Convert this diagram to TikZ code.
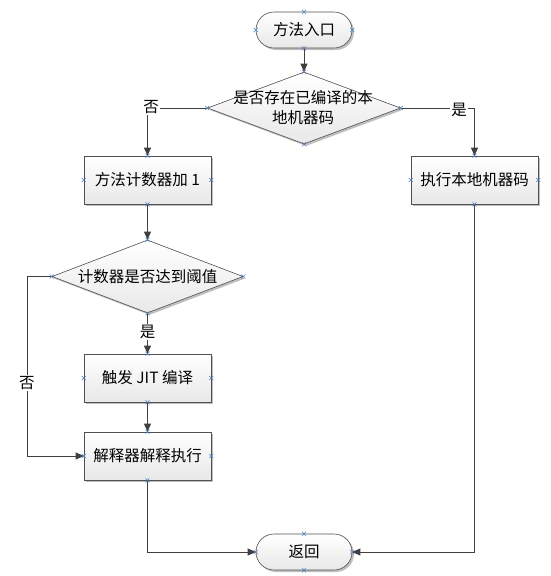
\documentclass[tikz,border=0pt]{standalone}
\usepackage{fontspec}
\setmainfont{Noto Sans CJK SC}
\usetikzlibrary{shapes.geometric,arrows.meta,shadows,calc}
\definecolor{ln}{HTML}{404040}
\definecolor{bd}{HTML}{505050}
\definecolor{mk}{HTML}{4A7EBB}
\begin{document}
\begin{tikzpicture}[x=1pt,y=-1pt,
  base/.style={draw=bd, line width=0.6pt, top color=white, bottom color=black!9,
    drop shadow={shadow xshift=2pt, shadow yshift=-2pt, opacity=0.25, fill=black},
    font=\fontsize{15.5}{20}\selectfont, inner sep=0pt},
  term/.style={base, rectangle, rounded corners=18pt, minimum width=96pt, minimum height=36pt},
  proc/.style={base, rectangle, minimum width=127pt, minimum height=48pt},
  dia/.style={base, diamond, inner sep=0pt},
  txt/.style={font=\fontsize{15.5}{20}\selectfont, align=center, inner sep=0pt},
  lab/.style={font=\fontsize{15.5}{20}\selectfont, fill=white, inner sep=1pt},
  conn/.style={draw=ln, line width=0.7pt, -{Triangle[length=8pt,width=7pt]}},
  cpmark/.style={draw=mk, line width=0.6pt}
]
\useasboundingbox[fill=white] (0,0) rectangle (551,576);
\newcommand\xmk[1]{\draw[cpmark] ($(#1)+(-2,-2)$) -- ($(#1)+(2,2)$) ($(#1)+(-2,2)$) -- ($(#1)+(2,-2)$);}

\node[term] (start) at (304,30) {方法入口};
\node[dia, minimum width=193pt, minimum height=72pt] (d1) at (304,108) {};
\node[txt] (d1t) at (303,108) {是否存在已编译的本\\地机器码};
\node[proc] (b1) at (147.5,180) {方法计数器加 1};
\node[proc] (b2) at (474.5,180) {执行本地机器码};
\node[dia, minimum width=191pt, minimum height=73pt] (d2) at (147.5,276.5) {};
\node[txt] (d2t) at (147.5,276.5) {计数器是否达到阈值};
\node[proc] (b3) at (147.5,378) {触发 JIT 编译};
\node[proc] (b4) at (147.5,456) {解释器解释执行};
\node[term] (end) at (304,552) {返回};
\coordinate (lp) at (27,276.5);

\draw[conn] (start.south) -- (d1.north);
\draw[conn] (d1.west) -| (b1.north);
\draw[conn] (d1.east) -| (b2.north);
\draw[conn] (b1.south) -- (d2.north);
\draw[conn] (d2.south) -- (b3.north);
\draw[conn] (d2.west) -- (lp) |- (b4.west);
\draw[conn] (b3.south) -- (b4.north);
\draw[conn] (b4.south) |- (end.west);
\draw[conn] (b2.south) |- (end.east);

\node[lab] (l1) at (151,107) {否};
\node[lab] (l2) at (459,110) {是};
\node[lab] (l3) at (147.5,332) {是};
\node[lab] (l4) at (27,383) {否};

\foreach \n in {start,b1,b2,b3,b4,end}{
  \xmk{\n.north}\xmk{\n.south}\xmk{\n.east}\xmk{\n.west}}
\foreach \n in {d1,d2}{
  \xmk{\n.north}\xmk{\n.south}\xmk{\n.east}\xmk{\n.west}}
\end{tikzpicture}
\end{document}
